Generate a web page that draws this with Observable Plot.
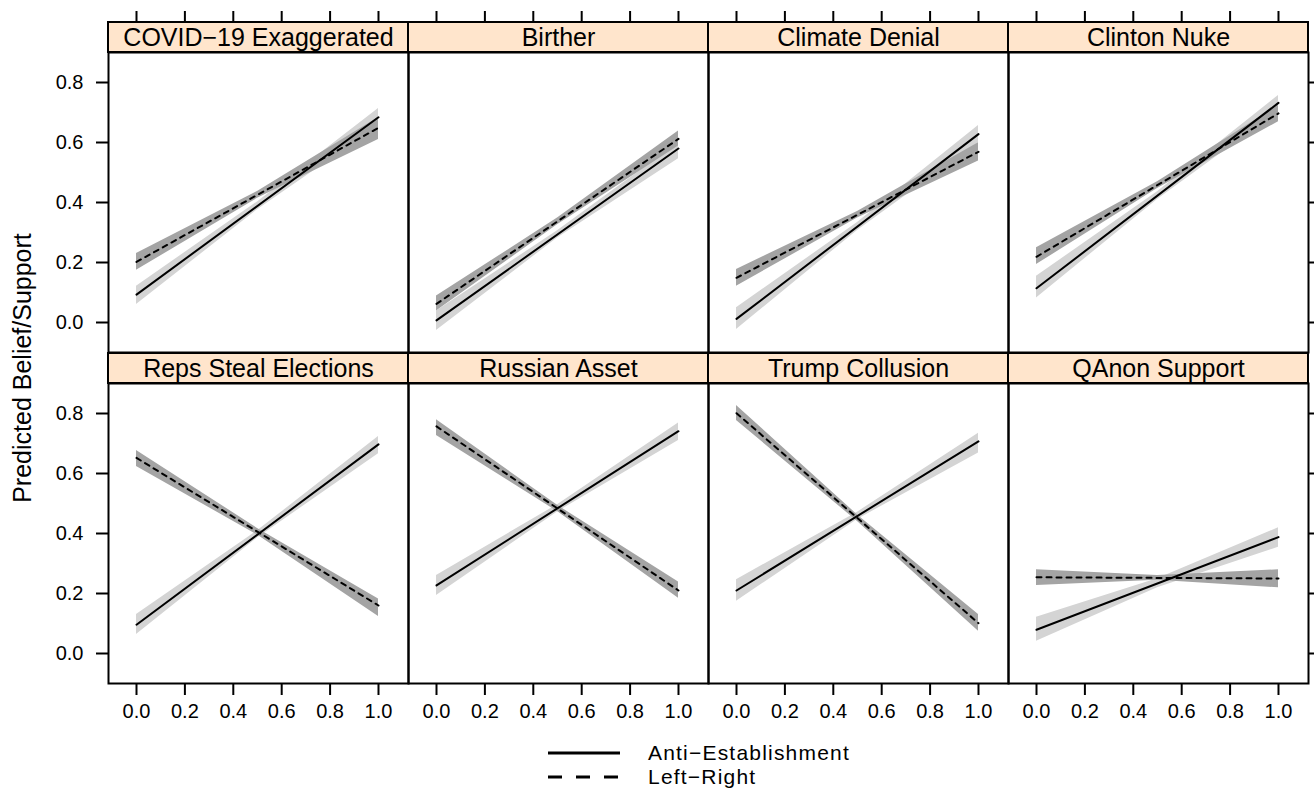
<!DOCTYPE html>
<html>
<head>
<meta charset="utf-8">
<script src="https://cdn.jsdelivr.net/npm/d3@7"></script>
<script src="https://cdn.jsdelivr.net/npm/@observablehq/plot@0.6"></script>
<style>
  html, body { margin: 0; padding: 0; background: white; }
  #wrap { position: relative; width: 1314px; height: 791px; font-family: "Liberation Sans", Arial, Helvetica, sans-serif; color: black; }
  #ylab { position: absolute; left: 22px; top: 368px; transform: translate(-50%, -50%) rotate(-90deg); font-size: 25px; white-space: nowrap; }
  .leg { position: absolute; font-size: 21px; letter-spacing: 1.2px; white-space: nowrap; line-height: 24px; height: 24px; }
  .legsvg { position: absolute; }
</style>
</head>
<body>
<div id="wrap">
  <div id="chart"></div>
  <div id="ylab">Predicted Belief/Support</div>
  <svg class="legsvg" style="left:540px; top:740px" width="90" height="50">
    <line x1="8" x2="80" y1="13" y2="13" stroke="black" stroke-width="3"/>
    <line x1="8" x2="80" y1="37" y2="37" stroke="black" stroke-width="3" stroke-dasharray="14,14"/>
  </svg>
  <div class="leg" style="left:648px; top:741px">Anti−Establishment</div>
  <div class="leg" style="left:648px; top:765px">Left−Right</div>
</div>
<script>
// ---- data ----
const panels = ["COVID−19 Exaggerated", "Birther", "Climate Denial", "Clinton Nuke",
                "Reps Steal Elections", "Russian Asset", "Trump Collusion", "QAnon Support"];
const xTicks = [0, 0.2, 0.4, 0.6, 0.8, 1.0];
const yTicks = [0, 0.2, 0.4, 0.6, 0.8];
const bandX = [0, 0.5, 1];

// Anti-Establishment (solid): fitted values at x = 0 and x = 1
const antiFit0 = [0.093, 0.007, 0.012, 0.114, 0.096, 0.227, 0.210, 0.079];
const antiFit1 = [0.684, 0.580, 0.628, 0.732, 0.697, 0.741, 0.707, 0.388];
// confidence band at x = 0, 0.5, 1
const antiLo0 = [0.060, -0.027, -0.023, 0.082, 0.063, 0.193, 0.174, 0.041];
const antiHi0 = [0.121, 0.038, 0.049, 0.154, 0.130, 0.260, 0.246, 0.121];
const antiLoM = [0.376, 0.282, 0.307, 0.410, 0.385, 0.472, 0.447, 0.219];
const antiHiM = [0.402, 0.306, 0.333, 0.436, 0.409, 0.496, 0.471, 0.249];
const antiLo1 = [0.655, 0.546, 0.599, 0.704, 0.666, 0.710, 0.668, 0.354];
const antiHi1 = [0.713, 0.599, 0.657, 0.757, 0.723, 0.768, 0.734, 0.419];

// Left-Right (dashed)
const lrFit0 = [0.202, 0.062, 0.149, 0.219, 0.652, 0.757, 0.801, 0.254];
const lrFit1 = [0.649, 0.612, 0.569, 0.697, 0.160, 0.210, 0.101, 0.250];
const lrLo0 = [0.174, 0.038, 0.121, 0.193, 0.623, 0.727, 0.777, 0.227];
const lrHi0 = [0.230, 0.088, 0.177, 0.249, 0.677, 0.779, 0.827, 0.279];
const lrLoM = [0.414, 0.326, 0.348, 0.447, 0.395, 0.473, 0.440, 0.244];
const lrHiM = [0.437, 0.348, 0.370, 0.469, 0.417, 0.494, 0.462, 0.260];
const lrLo1 = [0.610, 0.588, 0.538, 0.669, 0.123, 0.184, 0.074, 0.219];
const lrHi1 = [0.683, 0.638, 0.599, 0.723, 0.182, 0.238, 0.130, 0.279];

// ---- build tables ----
const strips = panels.map((p, i) => ({panel: p, col: i % 4, row: Math.floor(i / 4)}));
function series(name, fit0, fit1, lo0, loM, lo1, hi0, hiM, hi1) {
  const line = [], band = [];
  panels.forEach((p, i) => {
    const col = i % 4, row = Math.floor(i / 4), key = name + i;
    line.push({key, col, row, x: 0, y: fit0[i]}, {key, col, row, x: 1, y: fit1[i]});
    const lo = [lo0[i], loM[i], lo1[i]], hi = [hi0[i], hiM[i], hi1[i]];
    bandX.forEach((x, j) => band.push({key, col, row, x, lo: lo[j], hi: hi[j]}));
  });
  return {line, band};
}
const anti = series("anti", antiFit0, antiFit1, antiLo0, antiLoM, antiLo1, antiHi0, antiHiM, antiHi1);
const lr = series("lr", lrFit0, lrFit1, lrLo0, lrLoM, lrLo1, lrHi0, lrHiM, lrHi1);

const f1 = d3.format(".1f");
const fac = {fx: "col", fy: "row"};

const chart = Plot.plot({
  width: 1314,
  height: 740,
  marginLeft: 108,
  marginRight: 6,
  marginTop: 52,
  marginBottom: 57,
  fx: {domain: [0, 1, 2, 3], paddingInner: 0, paddingOuter: 0, axis: null},
  fy: {domain: [0, 1], paddingInner: 31 / 331, paddingOuter: 0, axis: null},
  x: {domain: [-0.1157, 1.124]},
  y: {domain: [-0.1, 0.9]},
  style: {fontFamily: "'Liberation Sans', Arial, Helvetica, sans-serif", fontSize: "20px", color: "black", background: "white"},
  marks: [
    Plot.areaY(anti.band, {...fac, x: "x", y1: "lo", y2: "hi", z: "key", fill: "#d4d4d4"}),
    Plot.areaY(lr.band, {...fac, x: "x", y1: "lo", y2: "hi", z: "key", fill: "#a4a4a4"}),
    Plot.line(anti.line, {...fac, x: "x", y: "y", z: "key", stroke: "black", strokeWidth: 2}),
    Plot.line(lr.line, {...fac, x: "x", y: "y", z: "key", stroke: "black", strokeWidth: 2, strokeDasharray: "5,5"}),
    Plot.frame({stroke: "black", strokeWidth: 2}),
    Plot.rect(strips, {...fac, x1: -0.1157, x2: 1.124, y1: 0.9, y2: 1.0, fill: "#ffe5cc", stroke: "black", strokeWidth: 2}),
    Plot.text(strips, {...fac, text: "panel", frameAnchor: "top", lineAnchor: "middle", dy: -15, fontSize: 25, fill: "black"}),
    Plot.axisY({anchor: "left", ticks: yTicks, tickFormat: f1, tickSize: 12, tickPadding: 13, label: null, strokeWidth: 2, fontSize: 20}),
    Plot.axisY({anchor: "right", ticks: yTicks, tickFormat: () => "", tickSize: 12, label: null, strokeWidth: 2}),
    Plot.axisX({anchor: "bottom", ticks: xTicks, tickFormat: f1, tickSize: 12, tickPadding: 8, label: null, strokeWidth: 2, fontSize: 20}),
    Plot.axisX({anchor: "top", ticks: xTicks, tickFormat: () => "", tickSize: 12, dy: -30, label: null, strokeWidth: 2})
  ]
});
document.getElementById("chart").appendChild(chart);
</script>
</body>
</html>
